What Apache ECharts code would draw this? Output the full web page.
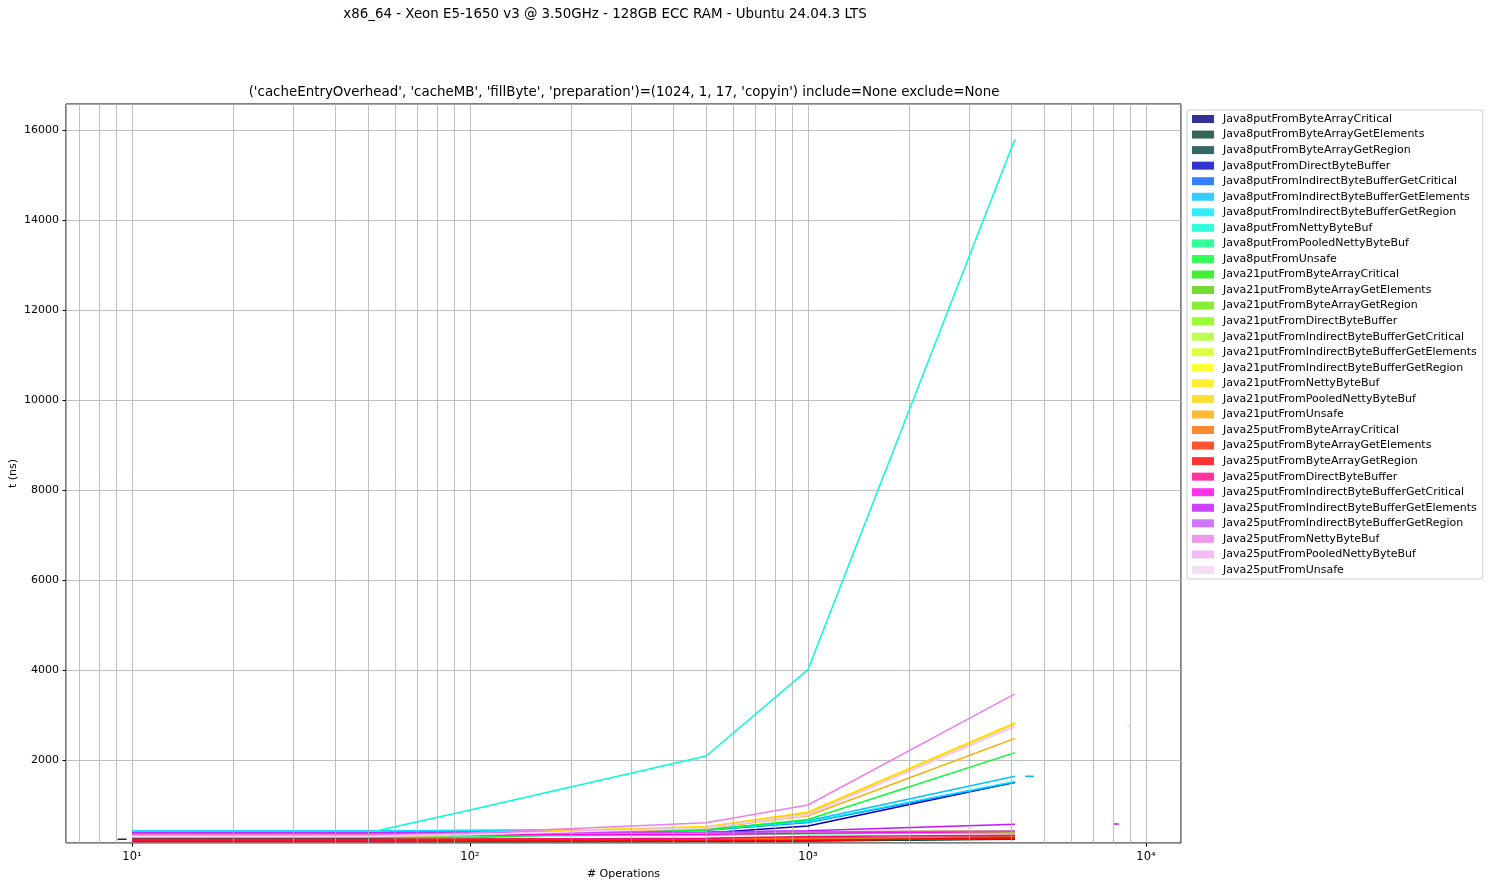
<!DOCTYPE html>
<html><head><meta charset="utf-8">
<script src="https://cdn.jsdelivr.net/npm/echarts@6/dist/echarts.min.js"></script>
<style>html,body{margin:0;padding:0;background:#fff}#c{width:1492px;height:887px}</style>
</head><body><div id="c"></div><script>
// ---- data ----
const xValues = [10, 50, 100, 500, 1000, 4096];

const seriesNames = [
  'Java8putFromByteArrayCritical','Java8putFromByteArrayGetElements','Java8putFromByteArrayGetRegion',
  'Java8putFromDirectByteBuffer','Java8putFromIndirectByteBufferGetCritical','Java8putFromIndirectByteBufferGetElements',
  'Java8putFromIndirectByteBufferGetRegion','Java8putFromNettyByteBuf','Java8putFromPooledNettyByteBuf','Java8putFromUnsafe',
  'Java21putFromByteArrayCritical','Java21putFromByteArrayGetElements','Java21putFromByteArrayGetRegion',
  'Java21putFromDirectByteBuffer','Java21putFromIndirectByteBufferGetCritical','Java21putFromIndirectByteBufferGetElements',
  'Java21putFromIndirectByteBufferGetRegion','Java21putFromNettyByteBuf','Java21putFromPooledNettyByteBuf','Java21putFromUnsafe',
  'Java25putFromByteArrayCritical','Java25putFromByteArrayGetElements','Java25putFromByteArrayGetRegion',
  'Java25putFromDirectByteBuffer','Java25putFromIndirectByteBufferGetCritical','Java25putFromIndirectByteBufferGetElements',
  'Java25putFromIndirectByteBufferGetRegion','Java25putFromNettyByteBuf','Java25putFromPooledNettyByteBuf','Java25putFromUnsafe'
];

const seriesColors = [
  '#000080','#00402a','#004040','#0000c0','#0060ff','#00c0ff','#00eaff','#00ffd5','#00ff80','#00ff2a',
  '#15ea00','#50d000','#6aea00','#80ff00','#aaff2a','#d5ff15','#ffff00','#ffea00','#ffd500','#ffaa00',
  '#ff6a00','#ff2a00','#ff0000','#ff0080','#ff00ea','#c015ff','#c055ff','#ea80ea','#f2aaf2','#f2d5f2'
];

const java8ByteArrayCritical        = [250, 250, 245, 250, 260, 290];
const java8ByteArrayGetElements     = [195, 195, 190, 195, 200, 240];
const java8ByteArrayGetRegion       = [200, 200, 195, 200, 205, 250];
const java8DirectByteBuffer         = [340, 340, 345, 378, 535, 1505];
const java8IndirectGetCritical      = [410, 410, 420, 440, 610, 1500];
const java8IndirectGetElements      = [425, 425, 440, 460, 650, 1640];
const java8IndirectGetRegion        = [415, 415, 430, 450, 625, 1525];
const java8NettyByteBuf             = [330, 385, 890, 2090, 4010, 15800];
const java8PooledNettyByteBuf       = [300, 300, 310, 330, 360, 380];
const java8Unsafe                   = [290, 285, 270, 444, 680, 2165];
const java21ByteArrayCritical       = [230, 230, 235, 240, 250, 280];
const java21ByteArrayGetElements    = [215, 215, 220, 225, 235, 265];
const java21ByteArrayGetRegion      = [225, 225, 230, 235, 245, 275];
const java21DirectByteBuffer        = [320, 320, 330, 350, 370, 390];
const java21IndirectGetCritical     = [360, 360, 365, 380, 395, 420];
const java21IndirectGetElements     = [370, 370, 375, 390, 400, 430];
const java21IndirectGetRegion       = [365, 365, 370, 385, 400, 425];
const java21NettyByteBuf            = [350, 350, 380, 520, 845, 2830];
const java21PooledNettyByteBuf      = [345, 345, 370, 510, 830, 2810];
const java21Unsafe                  = [300, 300, 330, 480, 760, 2480];
const java25ByteArrayCritical       = [240, 240, 245, 250, 260, 290];
const java25ByteArrayGetElements    = [215, 215, 215, 220, 225, 255];
const java25ByteArrayGetRegion      = [190, 190, 195, 200, 210, 270];
const java25DirectByteBuffer        = [230, 230, 240, 260, 300, 330];
const java25IndirectGetCritical     = [330, 330, 335, 350, 370, 410];
const java25IndirectGetElements     = [385, 385, 390, 400, 430, 575];
const java25IndirectGetRegion       = [365, 365, 370, 385, 405, 420];
const java25NettyByteBuf            = [320, 320, 380, 606, 1000, 3470];
const java25PooledNettyByteBuf      = [310, 310, 350, 500, 790, 2760];
const java25Unsafe                  = [300, 300, 340, 490, 780, 2740];

const seriesValues = [
  java8ByteArrayCritical, java8ByteArrayGetElements, java8ByteArrayGetRegion, java8DirectByteBuffer,
  java8IndirectGetCritical, java8IndirectGetElements, java8IndirectGetRegion, java8NettyByteBuf,
  java8PooledNettyByteBuf, java8Unsafe,
  java21ByteArrayCritical, java21ByteArrayGetElements, java21ByteArrayGetRegion, java21DirectByteBuffer,
  java21IndirectGetCritical, java21IndirectGetElements, java21IndirectGetRegion, java21NettyByteBuf,
  java21PooledNettyByteBuf, java21Unsafe,
  java25ByteArrayCritical, java25ByteArrayGetElements, java25ByteArrayGetRegion, java25DirectByteBuffer,
  java25IndirectGetCritical, java25IndirectGetElements, java25IndirectGetRegion, java25NettyByteBuf,
  java25PooledNettyByteBuf, java25Unsafe
];

// short stray segments seen in the picture: [colour index, x0, x1, y]
const strayIndex = [1, 5, 25, 29];
const strayX0    = [9.07, 4385, 8035, 8790];
const strayX1    = [9.64, 4663, 8318, 8983];
const strayY     = [238, 1638, 578, 2749];

const minorGridX = [7,8,9,20,30,40,50,60,70,80,90,200,300,400,500,600,700,800,900,2000,3000,4000,5000,6000,7000,8000,9000];

const titleText = 'x86_64 - Xeon E5-1650 v3 @ 3.50GHz - 128GB ECC RAM - Ubuntu 24.04.3 LTS';
const subTitleText = "('cacheEntryOverhead', 'cacheMB', 'fillByte', 'preparation')=(1024, 1, 17, 'copyin') include=None exclude=None";

// ---- chart ----
const FONT = 'DejaVu Sans';
const sup = ['⁰','¹','²','³','⁴','⁵'];
const series = [];
series.push({
  type: 'line', data: [], silent: true, z: 1,
  markLine: {
    silent: true, symbol: 'none', animation: false,
    label: {show: false},
    lineStyle: {color: '#b0b0b0', width: 0.8, type: 'solid'},
    data: minorGridX.map(v => ({xAxis: v}))
  }
});
seriesNames.forEach((name, i) => {
  series.push({
    name, type: 'line', color: seriesColors[i], z: 3,
    showSymbol: false, symbol: 'none',
    lineStyle: {width: 1.5, color: seriesColors[i]},
    data: xValues.map((x, k) => [x, seriesValues[i][k]])
  });
});
strayIndex.forEach((ci, k) => {
  series.push({
    type: 'line', z: 3, showSymbol: false, symbol: 'none', silent: true,
    lineStyle: {width: 1.5, color: seriesColors[ci]},
    data: [[strayX0[k], strayY[k]], [strayX1[k], strayY[k]]]
  });
});

const chart = echarts.init(document.getElementById('c'), null, {renderer: 'canvas'});
chart.setOption({
  animation: false,
  backgroundColor: '#fff',
  textStyle: {fontFamily: FONT},
  title: [
    {text: titleText, left: 605, top: 8, textAlign: 'center', padding: 0,
     textStyle: {fontFamily: FONT, fontSize: 13.4, fontWeight: 'normal', color: '#000'}},
    {text: subTitleText, left: 624, top: 86, textAlign: 'center', padding: 0,
     textStyle: {fontFamily: FONT, fontSize: 13.4, fontWeight: 'normal', color: '#000'}}
  ],
  grid: {left: 66, right: 311, top: 104, bottom: 44, show: true, borderColor: '#000', borderWidth: 1,
         containLabel: false, outerBoundsMode: 'none'},
  legend: {
    orient: 'vertical', left: 1187, top: 110,
    padding: [3, 6, 3, 5],
    backgroundColor: '#fff', borderColor: '#cccccc', borderWidth: 1, borderRadius: 3,
    icon: 'rect', itemWidth: 22, itemHeight: 8, itemGap: 3.55,
    itemStyle: {opacity: 0.8},
    selectedMode: false,
    textStyle: {fontFamily: FONT, fontSize: 11, color: '#000', lineHeight: 12, padding: [0, 0, 0, 4]},
    data: seriesNames
  },
  xAxis: {
    type: 'log', logBase: 10, min: 6.38, max: 12695,
    name: '# Operations', nameLocation: 'middle', nameGap: 26, nameMoveOverlap: false,
    nameTextStyle: {fontFamily: FONT, fontSize: 11, color: '#000'},
    axisLine: {show: false},
    axisTick: {show: true, length: 3.5, lineStyle: {color: '#000'}},
    splitLine: {show: true, lineStyle: {color: '#b0b0b0', width: 0.8}},
    axisLabel: {
      fontFamily: FONT, fontSize: 11.5, color: '#000', margin: 8,
      showMinLabel: false, showMaxLabel: false,
      formatter: v => {
        const l = Math.log10(v), e = Math.round(l);
        if (Math.abs(l - e) > 1e-6) return '';
        return '10' + sup[e];
      }
    }
  },
  yAxis: {
    type: 'value', min: 156, max: 16578, splitNumber: 8,
    name: 't (ns)', nameLocation: 'middle', nameGap: 47, nameRotate: 90, nameMoveOverlap: false,
    nameTextStyle: {fontFamily: FONT, fontSize: 11, color: '#000'},
    axisLine: {show: false},
    axisTick: {show: true, length: 3.5, lineStyle: {color: '#000'}},
    splitLine: {show: true, lineStyle: {color: '#b0b0b0', width: 0.8}},
    axisLabel: {fontFamily: FONT, fontSize: 11, color: '#000', margin: 7, showMinLabel: false, showMaxLabel: false,
                formatter: v => String(v)}
  },
  series
});
</script></body></html>
